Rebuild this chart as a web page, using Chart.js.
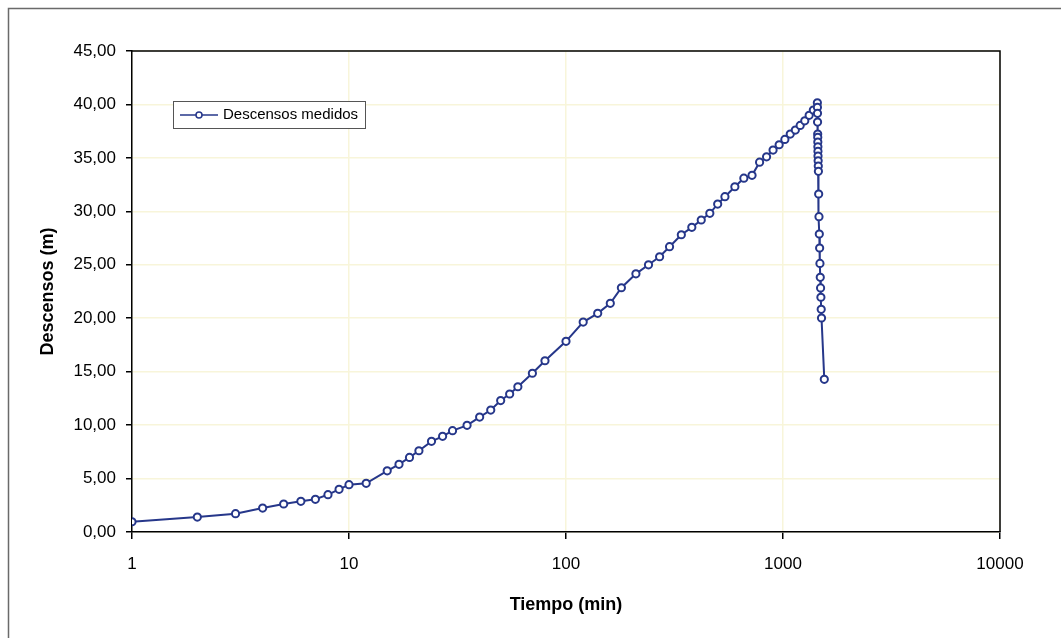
<!DOCTYPE html>
<html>
<head>
<meta charset="utf-8">
<script src="https://cdn.jsdelivr.net/npm/chart.js@4.4.1/dist/chart.umd.min.js"></script>
<style>
    body { margin: 0; background: #ffffff; }
    #grafico { display: block; }
</style>
</head>
<body>
<canvas id="grafico" width="1061" height="638"></canvas>
<script>
//prueba de bombeo - descensos vs tiempo (escala log)
const tiempo = [
    1, 2, 3, 4, 5, 6, 7, 8, 9, 10,
    12, 15, 17, 19, 21, 24, 27, 30, 35, 40,
    45, 50, 55, 60, 70, 80, 100, 120, 140, 160,
    180, 210, 240, 270, 300, 340, 380, 420, 460, 500,
    540, 600, 660, 720, 780, 840, 900, 960, 1020, 1080,
    1140, 1200, 1260, 1320, 1380, 1440,
    1441, 1442, 1443, 1445, 1446, 1447, 1448, 1449, 1450, 1452,
    1454, 1456, 1460, 1465, 1470, 1475, 1480, 1485, 1490, 1495,
    1500, 1505, 1550
];
const descensos = [
    0.96, 1.40, 1.71, 2.24, 2.62, 2.87, 3.06, 3.49, 3.99, 4.43,
    4.55, 5.72, 6.33, 6.98, 7.60, 8.48, 8.95, 9.48, 9.98, 10.75,
    11.41, 12.30, 12.91, 13.59, 14.85, 16.02, 17.84, 19.64, 20.46, 21.39,
    22.85, 24.15, 25.00, 25.75, 26.69, 27.81, 28.50, 29.19, 29.81, 30.68,
    31.37, 32.30, 33.10, 33.37, 34.60, 35.10, 35.73, 36.23, 36.73, 37.23,
    37.60, 38.04, 38.47, 38.98, 39.48, 40.15,
    39.73, 39.17, 38.35, 37.23, 36.92, 36.48, 36.04, 35.61, 35.17, 34.73,
    34.24, 33.74, 31.62, 29.50, 27.88, 26.57, 25.13, 23.83, 22.83, 21.96,
    20.83, 20.02, 14.28
];
const x_ticks = [1, 10, 100, 1000, 10000];
const serie_label = 'Descensos medidos';

const FONT = '"Liberation Sans", Arial, sans-serif';
const AZUL = '#26378a';

//marco exterior + borde superior/derecho del area de trazado
const marco_plugin = {
    id: 'marco',
    beforeDraw(chart) {
        const ctx = chart.ctx;
        ctx.save();
        ctx.fillStyle = '#ffffff';
        ctx.fillRect(0, 0, chart.width, chart.height);
        ctx.strokeStyle = '#6a6a6a';
        ctx.lineWidth = 1.5;
        ctx.beginPath();
        ctx.moveTo(8.5, chart.height);
        ctx.lineTo(8.5, 8.5);
        ctx.lineTo(chart.width, 8.5);
        ctx.stroke();
        ctx.restore();
    },
    afterDatasetsDraw(chart) {
        const a = chart.chartArea;
        const ctx = chart.ctx;
        ctx.save();
        ctx.strokeStyle = '#000000';
        ctx.lineWidth = 1.5;
        ctx.beginPath();
        ctx.moveTo(a.left, a.top);
        ctx.lineTo(a.right, a.top);
        ctx.lineTo(a.right, a.bottom);
        ctx.stroke();
        ctx.restore();
    }
};

//leyenda dentro del area de trazado
const leyenda_plugin = {
    id: 'leyenda',
    afterDraw(chart) {
        const a = chart.chartArea;
        const ctx = chart.ctx;
        const ds = chart.data.datasets[0];
        const x = a.left + 41, y = a.top + 50, w = 192, h = 27;
        ctx.save();
        ctx.fillStyle = '#ffffff';
        ctx.fillRect(x, y, w, h);
        ctx.strokeStyle = '#555555';
        ctx.lineWidth = 1;
        ctx.strokeRect(x + 0.5, y + 0.5, w, h);
        const cy = y + h / 2 + 0.5;
        ctx.strokeStyle = ds.borderColor;
        ctx.lineWidth = 1.5;
        ctx.beginPath();
        ctx.moveTo(x + 7, cy);
        ctx.lineTo(x + 45, cy);
        ctx.stroke();
        ctx.beginPath();
        ctx.arc(x + 26, cy, 3, 0, Math.PI * 2);
        ctx.fillStyle = '#ffffff';
        ctx.fill();
        ctx.stroke();
        ctx.fillStyle = '#000000';
        ctx.font = '15px ' + FONT;
        ctx.textBaseline = 'middle';
        ctx.fillText(ds.label, x + 50, cy);
        ctx.restore();
    }
};

function chart_log_data(id, tiempo, descensos) {
    return new Chart(id, {
        type: 'line',
        data: {
            datasets: [{
                label: serie_label,
                data: tiempo.map((t, i) => ({x: t, y: descensos[i]})),
                borderColor: AZUL,
                borderWidth: 2,
                pointRadius: 3.6,
                pointBorderWidth: 2,
                pointBackgroundColor: '#ffffff',
                pointBorderColor: AZUL,
                tension: 0,
            }],
        },
        options: {
            responsive: false,
            animation: false,
            devicePixelRatio: 1,
            layout: {
                padding: {left: 0, top: 51, right: 61, bottom: 0},
            },
            scales: {
                x: {
                    type: 'logarithmic',
                    min: 1,
                    max: 10000,
                    afterBuildTicks: (scale) => {
                        scale.ticks = x_ticks.map(v => ({value: v}));
                    },
                    afterFit: (scale) => { scale.height = 106; },
                    ticks: {
                        callback: (v) => String(v),
                        autoSkip: false,
                        maxRotation: 0,
                        padding: 15,
                        color: '#000000',
                        font: {family: FONT, size: 17},
                    },
                    grid: {
                        color: '#f8f5da',
                        lineWidth: 1.5,
                        tickColor: '#000000',
                        tickLength: 7,
                    },
                    border: {color: '#000000', width: 1.5},
                    title: {
                        display: true,
                        text: 'Tiempo (min)',
                        color: '#000000',
                        font: {family: FONT, size: 18, weight: 'bold'},
                        padding: {top: 0, bottom: 22},
                    },
                },
                y: {
                    min: 0,
                    max: 45,
                    afterFit: (scale) => { scale.width = 132; },
                    ticks: {
                        stepSize: 5,
                        padding: 10,
                        color: '#000000',
                        font: {family: FONT, size: 17},
                        callback: (v) => v.toFixed(2).replace('.', ','),
                    },
                    grid: {
                        color: '#f8f5da',
                        lineWidth: 1.5,
                        tickColor: '#000000',
                        tickLength: 6,
                    },
                    border: {color: '#000000', width: 1.5},
                    title: {
                        display: true,
                        text: 'Descensos (m)',
                        color: '#000000',
                        font: {family: FONT, size: 18, weight: 'bold'},
                        padding: {top: 37, bottom: 0},
                    },
                },
            },
            plugins: {
                legend: {display: false},
                tooltip: {enabled: false},
            },
        },
        plugins: [marco_plugin, leyenda_plugin],
    });
}

chart_log_data(document.getElementById('grafico'), tiempo, descensos);
</script>
</body>
</html>
